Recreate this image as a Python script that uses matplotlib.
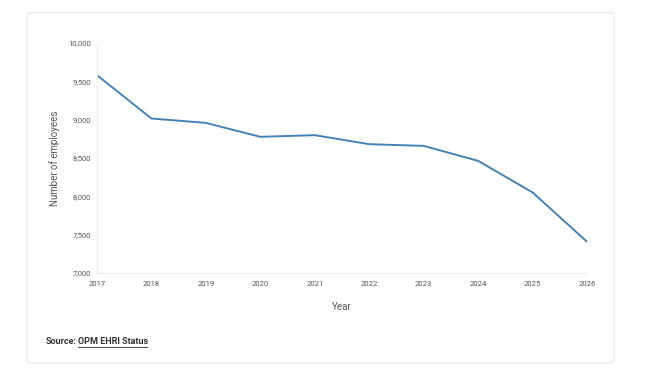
import numpy as np
import matplotlib
matplotlib.use("Agg")
import matplotlib.pyplot as plt
from matplotlib.patches import FancyBboxPatch
from matplotlib.ticker import FuncFormatter

years = [2017, 2018, 2019, 2020, 2021, 2022, 2023, 2024, 2025, 2026]
employees = [9580, 9015, 8958, 8776, 8798, 8680, 8658, 8463, 8051, 7408]
y_ticks = [7000, 7500, 8000, 8500, 9000, 9500, 10000]

W, H = 646, 383
fig = plt.figure(figsize=(W / 100, H / 100), dpi=100)
plt.rcParams['font.family'] = ['Roboto', 'DejaVu Sans']

# card background
card = FancyBboxPatch((27 / W, 1 - 363 / H), (614 - 27) / W, (363 - 12.5) / H,
                      boxstyle="round,pad=0,rounding_size=0.008",
                      transform=fig.transFigure, facecolor="white",
                      edgecolor="#e6e6e6", linewidth=0.8, zorder=-10)
fig.patches.append(card)

ax = fig.add_axes([97 / W, 1 - 273 / H, (587 - 97) / W, (273 - 43) / H])
ax.set_zorder(5)
ax.plot(years, employees, color="#4682b4", linewidth=1.4)
ax.set_xlim(2017, 2026)
ax.set_ylim(7000, 10000)
ax.set_xticks(years)
ax.set_yticks(y_ticks)
ax.yaxis.set_major_formatter(FuncFormatter(lambda v, p: f"{int(v):,}"))
ax.tick_params(length=0, labelsize=5.5, labelcolor="#555555", pad=4)
ax.tick_params(axis="x", pad=6)
for s in ["top", "right"]:
    ax.spines[s].set_visible(False)
for s in ["left", "bottom"]:
    ax.spines[s].set_color("#eeeeee")
    ax.spines[s].set_linewidth(0.8)
ax.patch.set_alpha(0)

ax.set_ylabel("Number of employees", fontsize=7, color="#555555", labelpad=6.5)
ax.set_xlabel("Year", fontsize=7, color="#555555", labelpad=10.5)

fig.text(46 / W, 1 - 342 / H, "Source:", fontsize=6.5, fontweight="bold",
         color="#333333", va="center", zorder=6)
fig.text(78 / W, 1 - 342 / H, "OPM EHRI Status", fontsize=6.5,
         fontweight="bold", color="#333333", va="center", zorder=6)
fig.add_artist(plt.Line2D([78 / W, 147 / W], [1 - 347 / H, 1 - 347 / H],
                          transform=fig.transFigure, color="#555555",
                          linewidth=0.8, zorder=6))

fig.savefig("out.png", dpi=100)
